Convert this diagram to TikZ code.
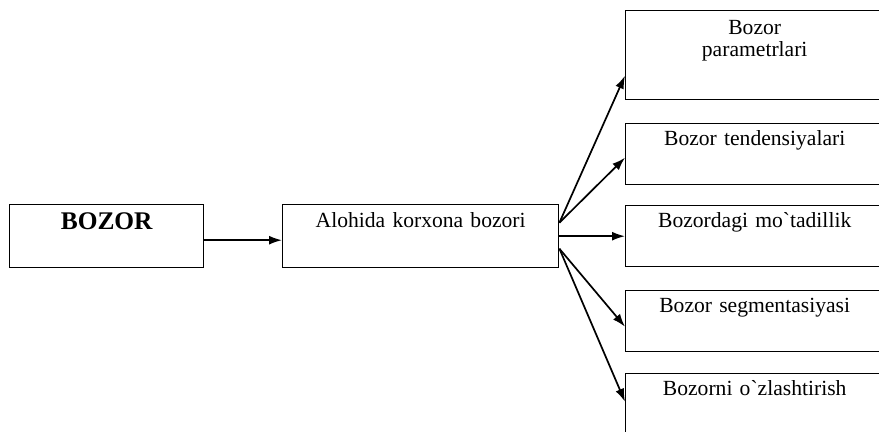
\documentclass[tikz,border=0pt]{standalone}
\usepackage{fontspec}
\setmainfont{Liberation Serif}
\usetikzlibrary{arrows.meta}

\tikzset{
	box/.style={draw,rectangle,line width=0.7pt,anchor=north west,inner sep=0pt,align=center,font=\fontsize{10.8}{11}\selectfont},
	arrow/.style={line width=0.85pt,-{Latex[length=6.5pt,width=4.5pt]}}
}

\begin{document}
\begin{tikzpicture}[x=0.5pt, y=-0.5pt]
	\useasboundingbox (0,0) rectangle (879,432);
	
	% Market
	\node (bozor) at (9,204) [box,text width=97pt,text height=12.5pt,text depth=19pt,font=\fontsize{12.7}{14}\selectfont\bfseries] {BOZOR};
	
	% Single firm market
	\node (alohida) at (282,204) [box,text width=138pt,text height=11.5pt,text depth=20pt] {Alohida korxona bozori};
	
	\draw [arrow] ([yshift=-2pt]bozor.east) to ([yshift=-2pt]alohida.west);
	
	% Market aspects
	\node (aspect 1) at (625,10) [box,text width=129pt,text height=12pt,text depth=32.5pt] {Bozor\\parametrlari};
	\foreach \n/\y/\t in {2/123/Bozor tendensiyalari,3/205/Bozordagi mo\textasciigrave tadillik,4/290/Bozor segmentasiyasi,5/373/Bozorni o\textasciigrave zlashtirish}{
		\node (aspect \n) at (625,\y) [box,text width=129pt,text height=11pt,text depth=19.5pt] {\t};
	}
	
	% Links to aspects
	\foreach \n/\a/\b in {1/6.75/-10.25,2/6.75/-1.75,3/0/0,4/-6.25/-2.75,5/-6.25/1.25}{
		\draw [arrow] ([yshift=\a pt]alohida.east) to ([yshift=\b pt]aspect \n.west);
	}
	
\end{tikzpicture}
\end{document}
